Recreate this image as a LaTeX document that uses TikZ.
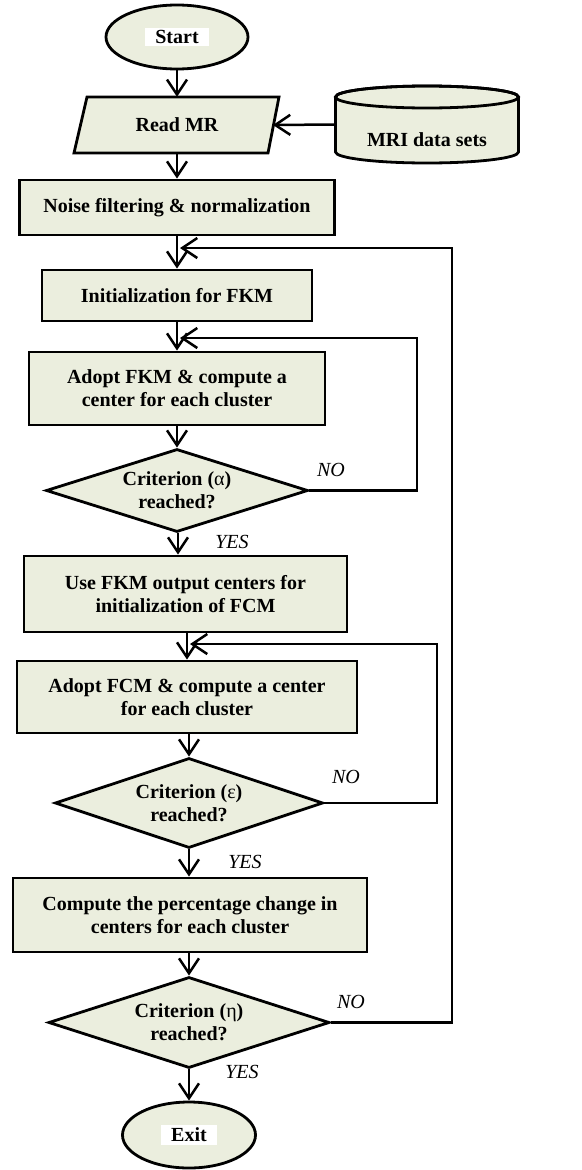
\documentclass[tikz,border=0pt]{standalone}
\usepackage{fontspec}
\setmainfont{Liberation Serif}
\usetikzlibrary{shapes.geometric,arrows.meta}
\definecolor{boxfill}{RGB}{235,238,222}
\tikzset{
  x=1pt, y=1pt,
  base/.style={draw=black, line width=2.8pt, fill=boxfill, font=\fontsize{20}{23}\selectfont\bfseries, align=center, inner sep=0pt},
  procbox/.style={base, rectangle},
  term/.style={base, ellipse},
  decision/.style={base, diamond},
  plain/.style={font=\fontsize{20}{23}\selectfont\bfseries, align=center, inner sep=0pt},
  lbl/.style={font=\fontsize{20}{23}\selectfont\itshape, inner sep=0pt},
  arr/.style={line width=2.5pt, -{Straight Barb[length=15pt, width=20pt, line width=2.5pt]}},
  ln/.style={line width=2.5pt}
}
\newcommand{\wbox}[1]{{\setlength{\fboxsep}{2.5pt}\colorbox{white}{\hspace{8pt}#1\hspace{8pt}}}}
\begin{document}
\begin{tikzpicture}
\useasboundingbox (0,0) rectangle (581,-1170);
% terminals
\node[term, minimum width=142, minimum height=64] (start) at (177,-37) {\wbox{Start}};
% Read MR parallelogram
\fill[boxfill] (87,-97) -- (279,-97) -- (268,-153) -- (74,-153) -- cycle;
\draw[line width=2.8pt, line join=miter] (87,-97) -- (279,-97) -- (268,-153) -- (74,-153) -- cycle;
\node[plain, minimum width=194, minimum height=56] (read) at (177,-125) {Read MR};
% MRI cylinder
\path[fill=boxfill, draw=black, line width=2.8pt] (335.5pt,-97pt) -- (335.5pt,-152pt) arc[start angle=180, end angle=360, x radius=91.5pt, y radius=11pt] -- (518.5pt,-97pt) arc[start angle=0, end angle=180, x radius=91.5pt, y radius=11pt] -- cycle;
\draw[line width=2.8pt] (427pt,-97pt) ellipse [x radius=91.5pt, y radius=11pt];
\node[minimum width=183, minimum height=77, inner sep=0pt] (data) at (427,-124.5) {};
\node[plain] (datatxt) at (427,-140) {MRI data sets};
% process boxes
\node[procbox, minimum width=315, minimum height=55] (noise) at (177,-207.5) {Noise filtering \& normalization};
\node[procbox, minimum width=270, minimum height=51] (init) at (177,-295.5) {Initialization for FKM};
\node[procbox, minimum width=296, minimum height=73] (adopt1) at (177,-388.5) {Adopt FKM \& compute a\\center for each cluster};
\node[decision, minimum width=262, minimum height=83, aspect=3.15] (crit1) at (177,-490.5) {Criterion ({\mdseries α})\\reached?};
\node[procbox, minimum width=323, minimum height=76] (usefkm) at (185.5,-594) {Use FKM output centers for\\initialization of FCM};
\node[procbox, minimum width=340, minimum height=72] (adopt2) at (187,-697) {Adopt FCM \& compute a center\\for each cluster};
\node[decision, minimum width=268, minimum height=90, aspect=2.98] (crit2) at (189,-803) {Criterion ({\mdseries ε})\\reached?};
\node[procbox, minimum width=354, minimum height=74] (comp) at (190,-915) {Compute the percentage change in\\centers for each cluster};
\node[decision, minimum width=281, minimum height=91, aspect=3.09] (crit3) at (189,-1022.5) {Criterion ({\mdseries η})\\reached?};
\node[term, minimum width=133, minimum height=66] (exit) at (189,-1135) {\wbox{Exit}};
% labels
\node[lbl] (no1) at (331,-470) {NO};
\node[lbl] (no2) at (346,-777) {NO};
\node[lbl] (no3) at (351,-1002) {NO};
\node[lbl] (yes1) at (232,-542) {YES};
\node[lbl] (yes2) at (245,-862) {YES};
\node[lbl] (yes3) at (242,-1072) {YES};
% loop coordinates
\coordinate (r1) at (452,-248);
\coordinate (m1) at (180,-248);
\coordinate (r2) at (417,-338);
\coordinate (m2) at (180,-338);
\coordinate (r3) at (437,-644);
\coordinate (m3) at (190,-644);
% connectors
\draw[arr] (start.south) -- (start.south |- read.north);
\draw[arr] (data.west) -- (273,-125);
\draw[arr] (read.south) -- (read.south |- noise.north);
\draw[arr] (noise.south) -- (noise.south |- init.north);
\draw[arr] (init.south) -- (init.south |- adopt1.north);
\draw[arr] (adopt1.south) -- (crit1.north);
\draw[arr] ([xshift=1pt]crit1.south) -- ([xshift=1pt]crit1.south |- usefkm.north);
\draw[arr] (usefkm.south -| adopt2.north) -- (adopt2.north);
\draw[arr] (adopt2.south -| crit2.north) -- (crit2.north);
\draw[arr] (crit2.south) -- (crit2.south |- comp.north);
\draw[arr] (comp.south -| crit3.north) -- (crit3.north);
\draw[arr] (crit3.south) -- (crit3.south |- exit.north);
\draw[arr] (crit1.east) -| (r2) -- (m2);
\draw[arr] (crit2.east) -| (r3) -- (m3);
\draw[arr] (crit3.east) -| (r1) -- (m1);
\end{tikzpicture}
\end{document}
